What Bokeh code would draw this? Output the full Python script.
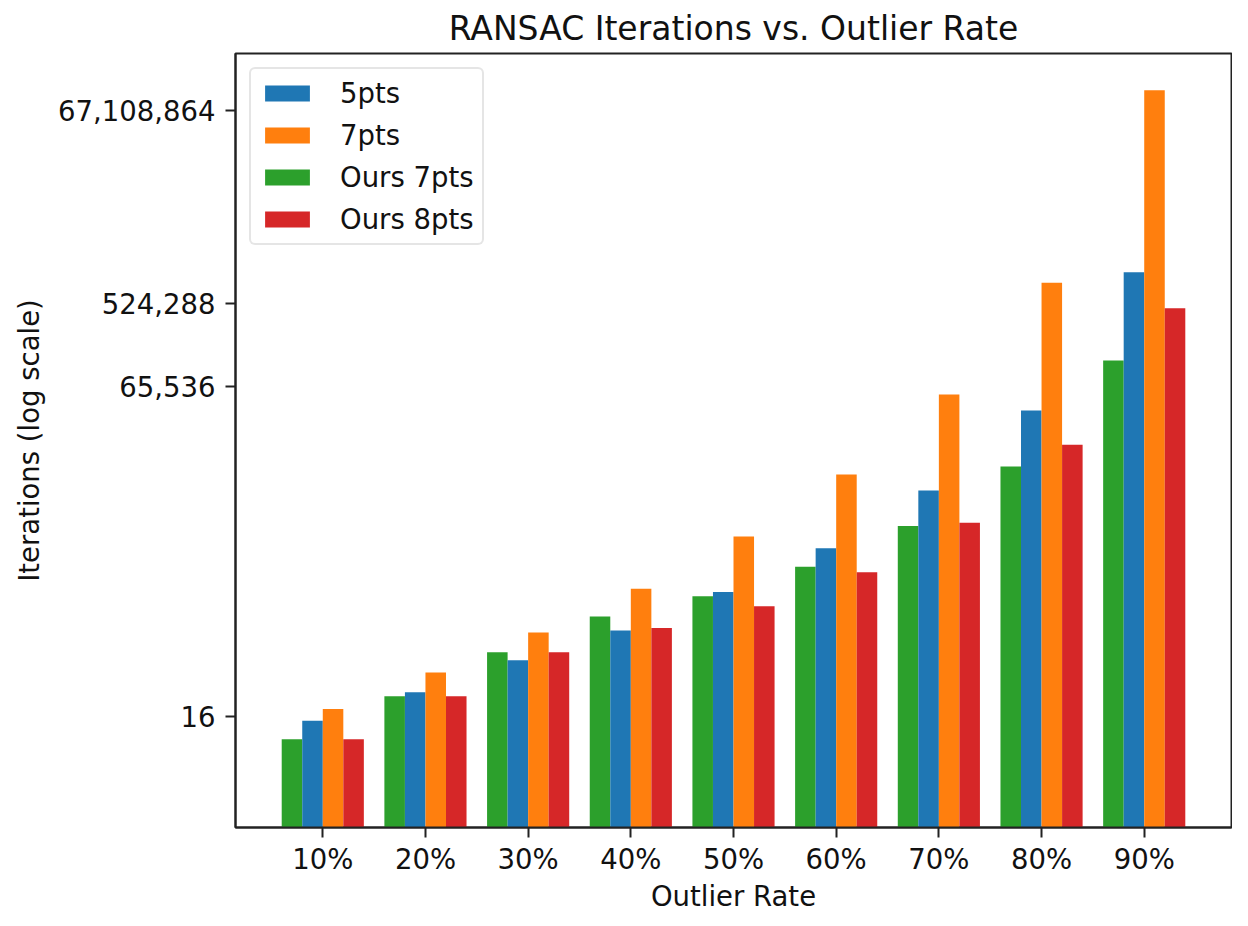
from bokeh.plotting import figure
from bokeh.models import (ColumnDataSource, FactorRange, Range1d, FixedTicker,
                          NumeralTickFormatter, Legend, LegendItem)
from bokeh.transform import dodge
from bokeh.embed import file_html
from bokeh.resources import INLINE

# ---- data ----
categories = ["10%", "20%", "30%", "40%", "50%", "60%", "70%", "80%", "90%"]
pts5 = [14.5, 29.8, 66.5, 141, 370, 1111, 4770, 35600, 1150000]
pts7 = [19.5, 48.9, 134, 403, 1500, 7130, 53200, 888000, 112000000]
ours7 = [9.1, 26.9, 81.4, 199.5, 332, 701, 1944, 8720, 125000]
ours8 = [9.1, 26.9, 81.4, 150, 258, 607, 2120, 15000, 466000]
y_ticks = [16, 65536, 524288, 67108864]

FONT = "DejaVu Sans"
TXT = "#111111"
C_BLUE, C_ORANGE, C_GREEN, C_RED = "#1f77b4", "#ff7f0e", "#2ca02c", "#d62728"

source = ColumnDataSource(dict(cat=categories, pts5=pts5, pts7=pts7, ours7=ours7, ours8=ours8))

y_lo, y_hi = 0.99, 2.83e8
p = figure(
    x_range=FactorRange(*categories, range_padding=0.35, range_padding_units="absolute"),
    y_range=Range1d(y_lo, y_hi),
    y_axis_type="log",
    frame_width=996, frame_height=774,
    min_border_left=235, min_border_right=1, min_border_top=45, min_border_bottom=80,
    output_backend="svg", toolbar_location=None,
    title="RANSAC Iterations vs. Outlier Rate",
)

bw = 0.2
r_green = p.vbar(x=dodge("cat", -0.3, range=p.x_range), top="ours7", bottom=y_lo, width=bw,
                 source=source, fill_color=C_GREEN, line_color=None)
r_blue = p.vbar(x=dodge("cat", -0.1, range=p.x_range), top="pts5", bottom=y_lo, width=bw,
                source=source, fill_color=C_BLUE, line_color=None)
r_orange = p.vbar(x=dodge("cat", 0.1, range=p.x_range), top="pts7", bottom=y_lo, width=bw,
                  source=source, fill_color=C_ORANGE, line_color=None)
r_red = p.vbar(x=dodge("cat", 0.3, range=p.x_range), top="ours8", bottom=y_lo, width=bw,
               source=source, fill_color=C_RED, line_color=None)

legend = Legend(items=[
    LegendItem(label="5pts", renderers=[r_blue]),
    LegendItem(label="7pts", renderers=[r_orange]),
    LegendItem(label="Ours 7pts", renderers=[r_green]),
    LegendItem(label="Ours 8pts", renderers=[r_red]),
], location="top_left")
legend.margin = 14
legend.padding = 8
legend.spacing = 10
legend.glyph_width = 56
legend.glyph_height = 20
legend.label_standoff = 25
legend.label_text_font = FONT
legend.label_text_font_size = "27.5px"
legend.label_text_color = TXT
legend.border_line_color = "#cccccc"
legend.border_line_width = 2
legend.background_fill_alpha = 0.8
if "border_radius" in Legend.properties():
    legend.border_radius = 6
p.add_layout(legend)

# title
p.title.text_font = FONT
p.title.text_font_size = "33px"
p.title.text_font_style = "normal"
p.title.text_color = TXT
p.title.align = "center"
p.title.standoff = 12

# frame
p.outline_line_color = "#222222"
p.outline_line_width = 2
p.outline_line_alpha = 1
p.xgrid.visible = False
p.ygrid.visible = False
p.background_fill_color = "white"
p.border_fill_color = "white"

# axes
for ax in (p.xaxis[0], p.yaxis[0]):
    ax.axis_line_color = "#222222"
    ax.axis_line_width = 2
    ax.major_tick_line_color = "#222222"
    ax.major_tick_line_width = 2
    ax.major_tick_in = 0
    ax.major_tick_out = 10
    ax.minor_tick_line_color = None
    ax.major_label_text_font = FONT
    ax.major_label_text_font_size = "27.5px"
    ax.major_label_text_color = TXT
    ax.axis_label_text_font = FONT
    ax.axis_label_text_font_size = "27.5px"
    ax.axis_label_text_font_style = "normal"
    ax.axis_label_text_color = TXT

p.xaxis.axis_label = "Outlier Rate"
p.xaxis.major_label_standoff = 5
p.xaxis.axis_label_standoff = 2

p.yaxis.axis_label = "Iterations (log scale)"
p.yaxis.ticker = FixedTicker(ticks=y_ticks, minor_ticks=[])
p.yaxis.formatter = NumeralTickFormatter(format="0,0")
p.yaxis.major_label_standoff = 10
p.yaxis.axis_label_standoff = 10

open("out.html", "w").write(file_html(p, INLINE))
